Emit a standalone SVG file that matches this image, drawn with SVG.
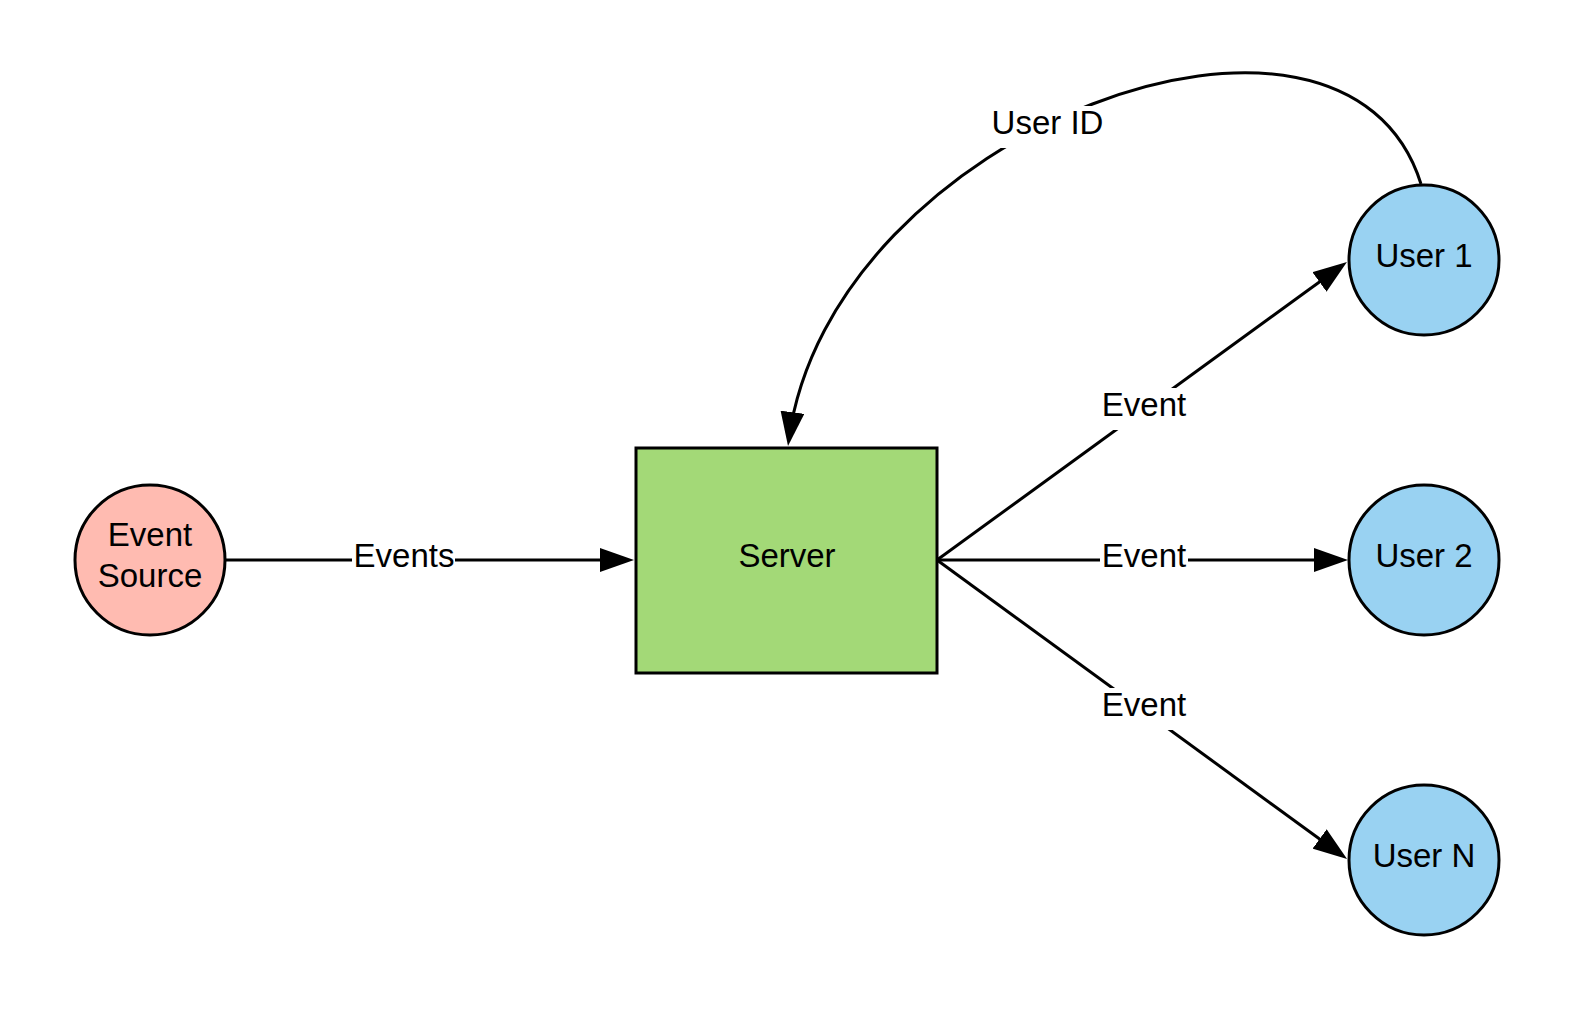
<svg xmlns="http://www.w3.org/2000/svg" width="1575" height="1013" viewBox="0 0 1575 1013">
<style>
  .node { stroke: #000; stroke-width: 3; }
  .src { fill: #FFBBB1; }
  .srv { fill: #A3D977; }
  .usr { fill: #99D2F2; }
  .lbl { font-family: "Liberation Sans", Arial, sans-serif; font-size: 33px; fill: #000; text-anchor: middle; }
  .edge { fill: none; stroke: #000; stroke-width: 3; }
  .bg { fill: #fff; }
</style>
<defs>
  <marker id="arrow" viewBox="0 0 34 24" refX="28" refY="12" markerWidth="34" markerHeight="24" markerUnits="userSpaceOnUse" orient="auto">
    <path d="M0,0 L34,12 L0,24 z" fill="#000"/>
  </marker>
</defs>
<rect width="1575" height="1013" fill="#fff"/>

<g id="connectors">
  <g id="e-source-server">
    <line class="edge" x1="225" y1="560" x2="628" y2="560" marker-end="url(#arrow)"/>
    <rect class="bg" x="352" y="540" width="103" height="40"/>
    <text class="lbl" x="404" y="567">Events</text>
  </g>
  <g id="e-server-user1">
    <line class="edge" x1="937" y1="560" x2="1342.1" y2="265.5" marker-end="url(#arrow)"/>
    <rect class="bg" x="1100" y="388" width="88" height="42"/>
    <text class="lbl" x="1144" y="416">Event</text>
  </g>
  <g id="e-server-user2">
    <line class="edge" x1="937" y1="560" x2="1342" y2="560" marker-end="url(#arrow)"/>
    <rect class="bg" x="1100" y="540" width="88" height="40"/>
    <text class="lbl" x="1144" y="567">Event</text>
  </g>
  <g id="e-server-userN">
    <line class="edge" x1="937" y1="560" x2="1342.2" y2="855.5" marker-end="url(#arrow)"/>
    <rect class="bg" x="1100" y="688" width="88" height="42"/>
    <text class="lbl" x="1144" y="716">Event</text>
  </g>
  <g id="e-user1-server">
    <path class="edge" d="M1421,184 C1345,-60 830,130 788.8,440" marker-end="url(#arrow)"/>
    <rect class="bg" x="989" y="106" width="117" height="42"/>
    <text class="lbl" x="1047.5" y="134">User ID</text>
  </g>
</g>

<g id="event-source">
  <circle class="node src" cx="150" cy="560" r="75"/>
  <text class="lbl" x="150" y="546">Event</text>
  <text class="lbl" x="150" y="587">Source</text>
</g>
<g id="server">
  <rect class="node srv" x="636" y="448" width="301" height="225"/>
  <text class="lbl" x="787" y="567">Server</text>
</g>
<g id="user1">
  <circle class="node usr" cx="1424" cy="260" r="75"/>
  <text class="lbl" x="1424" y="267">User 1</text>
</g>
<g id="user2">
  <circle class="node usr" cx="1424" cy="560" r="75"/>
  <text class="lbl" x="1424" y="567">User 2</text>
</g>
<g id="userN">
  <circle class="node usr" cx="1424" cy="860" r="75"/>
  <text class="lbl" x="1424" y="867">User N</text>
</g>
</svg>
